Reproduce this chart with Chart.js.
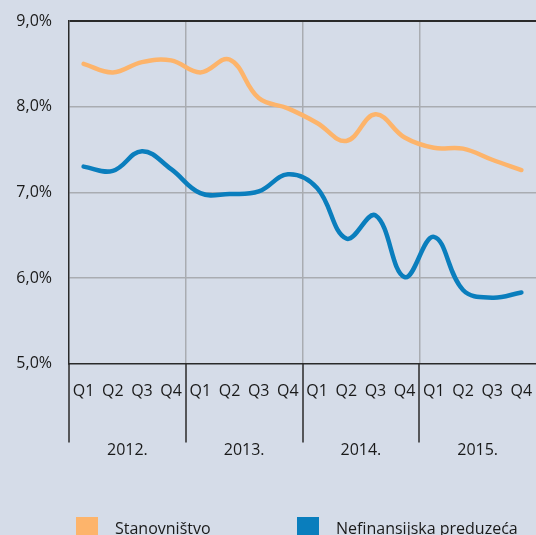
<!DOCTYPE html>
<html>
<head>
<meta charset="utf-8">
<script src="https://cdn.jsdelivr.net/npm/chart.js@4"></script>
<style>
  html, body { margin: 0; padding: 0; background: #d5dce8; }
  #wrap { position: relative; width: 536px; height: 535px; overflow: hidden; }
  canvas { display: block; }
  .leg { position: absolute; top: 516px; font: 16px "Open Sans", "Noto Sans", sans-serif; color: #1a1a1a; }
  .leg i { position: absolute; top: 1px; width: 22px; height: 22px; }
  .leg span { position: absolute; top: 1px; white-space: nowrap; }
</style>
</head>
<body>
<div id="wrap">
  <canvas id="c" width="536" height="535"></canvas>
  <div class="leg" id="leg"></div>
</div>
<script>
(function () {
  "use strict";

  var quarters = ["Q1", "Q2", "Q3", "Q4", "Q1", "Q2", "Q3", "Q4", "Q1", "Q2", "Q3", "Q4", "Q1", "Q2", "Q3", "Q4"];
  var years = ["2012.", "2013.", "2014.", "2015."];
  var stanovnistvo = [8.50, 8.40, 8.52, 8.54, 8.40, 8.55, 8.10, 7.98, 7.81, 7.60, 7.91, 7.64, 7.52, 7.51, 7.38, 7.26];
  var preduzeca = [7.30, 7.25, 7.48, 7.27, 6.99, 6.98, 7.01, 7.21, 7.05, 6.46, 6.73, 6.01, 6.48, 5.86, 5.77, 5.83];
  var seriesNames = ["Stanovništvo", "Nefinansijska preduzeća"];
  var colors = ["#fdb46b", "#0a7ebd"];

  var font = "'Open Sans', 'Noto Sans', sans-serif";
  var dark = "#2a2a2a";

  function noHPad(s) { s.paddingLeft = 0; s.paddingRight = 0; }

  // dark separators under the axis, between the years
  var separators = {
    id: "separators",
    afterDraw: function (chart) {
      var x = chart.scales.x, a = chart.chartArea, ctx = chart.ctx;
      ctx.save();
      ctx.strokeStyle = dark;
      ctx.lineWidth = 1.5;
      for (var i = 0; i < quarters.length; i += 4) {
        var px = Math.round(x.getPixelForValue(i - 0.5));
        ctx.beginPath();
        ctx.moveTo(px, a.bottom);
        ctx.lineTo(px, a.bottom + 79);
        ctx.stroke();
      }
      ctx.restore();
    }
  };

  new Chart(document.getElementById("c"), {
    type: "line",
    data: {
      labels: quarters,
      datasets: [
        { label: seriesNames[0], data: stanovnistvo, borderColor: colors[0], backgroundColor: colors[0] },
        { label: seriesNames[1], data: preduzeca, borderColor: colors[1], backgroundColor: colors[1] }
      ]
    },
    options: {
      responsive: false,
      animation: false,
      layout: { padding: { top: 21, right: 0, bottom: 53, left: 0 } },
      elements: {
        line: { borderWidth: 4.5, tension: 0.4, borderCapStyle: "round" },
        point: { radius: 0 }
      },
      plugins: { legend: { display: false }, tooltip: { enabled: false } },
      scales: {
        x: {
          offset: true,
          afterFit: noHPad,
          grid: {
            offset: true,
            drawTicks: false,
            color: function (c) { return (c.index % 4 === 0 && c.index > 0 && c.index < 16) ? "#a9acb1" : "rgba(0,0,0,0)"; },
            lineWidth: 1.5
          },
          border: { color: dark, width: 1.5 },
          ticks: { color: "#1a1a1a", font: { family: font, size: 16 }, padding: 18, maxRotation: 0, autoSkip: false }
        },
        x2: {
          type: "category",
          labels: years,
          offset: true,
          position: "bottom",
          afterFit: noHPad,
          grid: { display: false, drawTicks: false },
          border: { display: false },
          ticks: { color: "#1a1a1a", font: { family: font, size: 16 }, padding: 22 }
        },
        y: {
          min: 5,
          max: 9,
          afterFit: function (s) { s.width = 69; s.paddingTop = 0; s.paddingBottom = 0; },
          grid: {
            drawTicks: false,
            color: function (c) { return c.tick.value === 9 ? dark : (c.tick.value === 5 ? "rgba(0,0,0,0)" : "#a9acb1"); },
            lineWidth: function (c) { return c.tick.value === 9 ? 2 : 1.5; }
          },
          border: { color: dark, width: 1.5 },
          ticks: {
            stepSize: 1,
            padding: 17,
            color: "#1a1a1a",
            font: { family: font, size: 16 },
            callback: function (v) { return v.toFixed(1).replace(".", ",") + "%"; }
          }
        }
      }
    },
    plugins: [separators]
  });

  // legend as html
  var leg = document.getElementById("leg");
  var lefts = [76, 297];
  seriesNames.forEach(function (n, i) {
    var box = document.createElement("i");
    box.style.left = lefts[i] + "px";
    box.style.background = colors[i];
    var t = document.createElement("span");
    t.style.left = (lefts[i] + 39) + "px";
    t.textContent = n;
    leg.appendChild(box);
    leg.appendChild(t);
  });
})();
</script>
</body>
</html>
